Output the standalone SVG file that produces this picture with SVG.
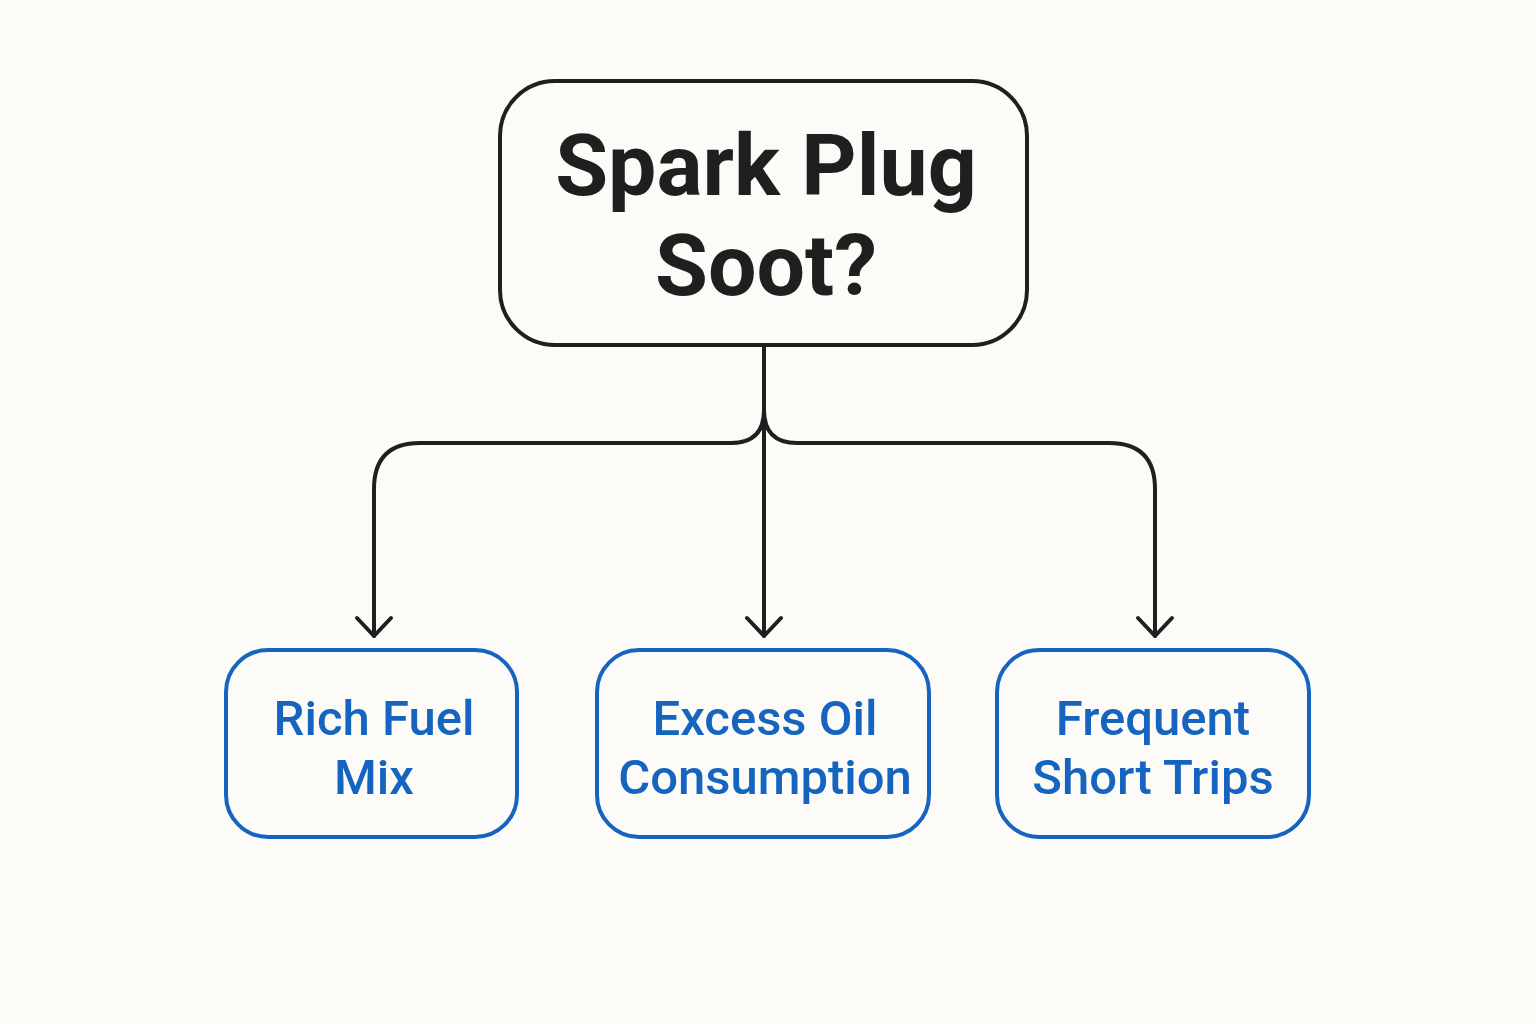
<svg xmlns="http://www.w3.org/2000/svg" width="1536" height="1024" viewBox="0 0 1536 1024">
<defs>
<style>
.bg{fill:#fcfbf8}
.main{fill:none;stroke:#1f1f1f;stroke-width:4}
.child{fill:none;stroke:#1565c0;stroke-width:4}
.conn{fill:none;stroke:#1f1f1f;stroke-width:4;stroke-linecap:round;stroke-linejoin:round}
.t1{font-family:Roboto,"Liberation Sans",sans-serif;font-weight:700;font-size:86px;fill:#1f1f1f;text-anchor:middle}
.t2{font-family:Roboto,"Liberation Sans",sans-serif;font-weight:500;font-size:49px;fill:#1565c0;text-anchor:middle}
</style>
<marker id="arr" viewBox="0 0 40 40" refX="36" refY="20" markerWidth="40" markerHeight="40" markerUnits="userSpaceOnUse" orient="auto">
<path d="M18 3 L36 20 L18 37" fill="none" stroke="#1f1f1f" stroke-width="4" stroke-linecap="round" stroke-linejoin="round"/>
</marker>
</defs>
<rect class="bg" x="0" y="0" width="1536" height="1024"/>
<g id="connectors">
<path class="conn" d="M764 345 L764 636" marker-end="url(#arr)"/>
<path class="conn" d="M764 410 Q764 443 731 443 L420 443 Q374 443 374 489 L374 636" marker-end="url(#arr)"/>
<path class="conn" d="M764 410 Q764 443 797 443 L1109 443 Q1155 443 1155 489 L1155 636" marker-end="url(#arr)"/>
</g>
<g id="node-root">
<rect class="main" x="500" y="81" width="527" height="264" rx="55" ry="55"/>
<text class="t1" x="766" y="195">Spark Plug</text>
<text class="t1" x="766" y="295">Soot?</text>
</g>
<g id="node-rich">
<rect class="child" x="226" y="650" width="291" height="187" rx="42" ry="42"/>
<text class="t2" x="374" y="735">Rich Fuel</text>
<text class="t2" x="374" y="794">Mix</text>
</g>
<g id="node-oil">
<rect class="child" x="597" y="650" width="332" height="187" rx="42" ry="42"/>
<text class="t2" x="765" y="735">Excess Oil</text>
<text class="t2" x="765" y="794">Consumption</text>
</g>
<g id="node-trips">
<rect class="child" x="997" y="650" width="312" height="187" rx="42" ry="42"/>
<text class="t2" x="1153" y="735">Frequent</text>
<text class="t2" x="1153" y="794">Short Trips</text>
</g>
</svg>
